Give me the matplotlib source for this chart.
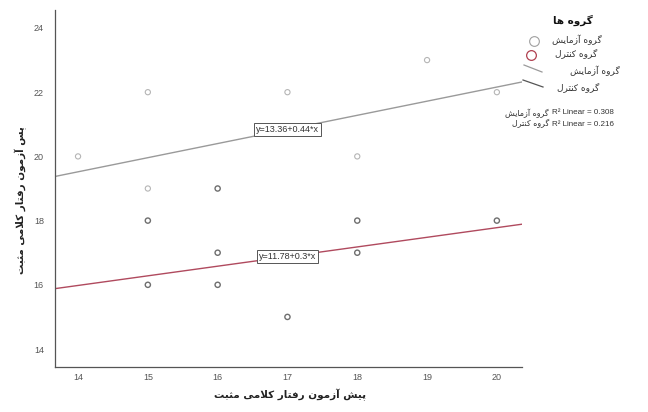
import matplotlib
matplotlib.use("Agg")
import matplotlib.pyplot as plt
from matplotlib.lines import Line2D
import numpy as np

# ---------------- data ----------------
exp_x = [14, 15, 15, 17, 18, 19, 20]
exp_y = [20, 22, 19, 22, 20, 23, 22]
ctl_x = [15, 15, 16, 16, 16, 17, 18, 18, 20]
ctl_y = [18, 16, 19, 17, 16, 15, 18, 17, 18]
fit_intercepts = [13.36, 11.78]
fit_slopes = [0.44, 0.3]
fit_labels = ["y=13.36+0.44*x", "y=11.78+0.3*x"]
r2_values = [0.308, 0.216]
x_ticks = [14, 15, 16, 17, 18, 19, 20]
y_ticks = [14, 16, 18, 20, 22, 24]

group_names = ["گروه آزمایش", "گروه کنترل"]
legend_title = "گروه ها"
x_label = "پیش آزمون رفتار کلامی مثبت"
y_label = "پس آزمون رفتار کلامی مثبت"

# ------------- minimal Arabic/Persian shaping -------------
FORMS = {
    'ا': ('\uFE8D', '\uFE8E', None, None),
    'آ': ('\uFE81', '\uFE82', None, None),
    'ب': ('\uFE8F', '\uFE90', '\uFE91', '\uFE92'),
    'پ': ('\uFB56', '\uFB57', '\uFB58', '\uFB59'),
    'ت': ('\uFE95', '\uFE96', '\uFE97', '\uFE98'),
    'ث': ('\uFE99', '\uFE9A', '\uFE9B', '\uFE9C'),
    'ر': ('\uFEAD', '\uFEAE', None, None),
    'ز': ('\uFEAF', '\uFEB0', None, None),
    'س': ('\uFEB1', '\uFEB2', '\uFEB3', '\uFEB4'),
    'ش': ('\uFEB5', '\uFEB6', '\uFEB7', '\uFEB8'),
    'ف': ('\uFED1', '\uFED2', '\uFED3', '\uFED4'),
    'ک': ('\uFB8E', '\uFB8F', '\uFB90', '\uFB91'),
    'گ': ('\uFB92', '\uFB93', '\uFB94', '\uFB95'),
    'ل': ('\uFEDD', '\uFEDE', '\uFEDF', '\uFEE0'),
    'م': ('\uFEE1', '\uFEE2', '\uFEE3', '\uFEE4'),
    'ن': ('\uFEE5', '\uFEE6', '\uFEE7', '\uFEE8'),
    'و': ('\uFEED', '\uFEEE', None, None),
    'ه': ('\uFEE9', '\uFEEA', '\uFEEB', '\uFEEC'),
    'ی': ('\uFBFC', '\uFBFD', '\uFBFE', '\uFBFF'),
}
LAM_ALEF = {'ا': ('\uFEFB', '\uFEFC'), 'آ': ('\uFEF5', '\uFEF6')}


def joins_left(ch):
    return ch in FORMS and FORMS[ch][2] is not None


def shape(text):
    chars = []
    i = 0
    while i < len(text):
        c = text[i]
        if c == 'ل' and i + 1 < len(text) and text[i + 1] in LAM_ALEF:
            chars.append(('LA', text[i + 1]))
            i += 2
        else:
            chars.append(('C', c))
            i += 1
    out = []
    for k, (kind, c) in enumerate(chars):
        prev = chars[k - 1] if k > 0 else None
        nxt = chars[k + 1] if k + 1 < len(chars) else None
        prev_joins = prev is not None and prev[0] == 'C' and joins_left(prev[1])
        if kind == 'LA':
            out.append(LAM_ALEF[c][1 if prev_joins else 0])
            continue
        if c not in FORMS:
            out.append(c)
            continue
        iso, fin, ini, med = FORMS[c]
        next_ok = nxt is not None and (nxt[0] == 'LA' or nxt[1] in FORMS)
        can_left = ini is not None and next_ok
        if prev_joins and can_left:
            out.append(med)
        elif prev_joins:
            out.append(fin)
        elif can_left:
            out.append(ini)
        else:
            out.append(iso)
    return ''.join(out)[::-1]


plt.rcParams['font.family'] = ['Liberation Sans', 'DejaVu Sans']
W, H = 648, 412
fig = plt.figure(figsize=(W / 100, H / 100), dpi=100)
ax = fig.add_axes([55 / W, 1 - 367 / H, (522 - 55) / W, (367 - 10) / H])

ax.set_xlim(13.67, 20.36)
ax.set_ylim(13.44, 24.56)
for s in ['top', 'right']:
    ax.spines[s].set_visible(False)
for s in ['left', 'bottom']:
    ax.spines[s].set_color('#555555')
    ax.spines[s].set_linewidth(0.9)

ax.set_xticks(x_ticks)
ax.set_yticks(y_ticks)
ax.set_xticklabels([str(v) for v in x_ticks])
ax.set_yticklabels([str(v) for v in y_ticks])
ax.tick_params(axis='both', length=0, labelsize=6.5, labelcolor='#555555')
ax.tick_params(axis='x', pad=4)
ax.tick_params(axis='y', pad=8)

# points
ax.scatter(exp_x, exp_y, s=14, facecolors='none', edgecolors='#b5b5b5', linewidths=0.8, zorder=3)
ax.scatter(ctl_x, ctl_y, s=14, facecolors='none', edgecolors='#6e6e6e', linewidths=1.0, zorder=3)

# fit lines
line_colors = ['#9a9a9a', '#b04a5e']
xs = np.array(ax.get_xlim())
for b0, b1, col, lab in zip(fit_intercepts, fit_slopes, line_colors, fit_labels):
    ax.plot(xs, b0 + b1 * xs, color=col, lw=1.0, zorder=2)
    ax.text(17.0, b0 + b1 * 17.0, lab, ha='center', va='center', fontsize=6.5,
            color='#333333', zorder=5,
            bbox=dict(boxstyle='square,pad=0.25', fc='white', ec='#555555', lw=0.7))

# axis labels
fig.text(290 / W, 1 - 395 / H, shape(x_label), ha='center', va='center', fontsize=7.5,
         family=['DejaVu Sans'], weight='bold', color='#222222')
fig.text(21 / W, 1 - 200 / H, shape(y_label), ha='center', va='center', fontsize=7.5,
         family=['DejaVu Sans'], weight='bold', color='#222222', rotation=90)

# legend (manual)
fig.text(573 / W, 1 - 20 / H, shape(legend_title), ha='center', va='center', fontsize=7.5,
         family=['DejaVu Sans'], weight='bold', color='#111111')
fig.add_artist(Line2D([534 / W], [1 - 41 / H], marker='o', ms=7, mfc='none', mec='#a0a0a0',
                      mew=0.8, transform=fig.transFigure))
fig.add_artist(Line2D([531 / W], [1 - 55 / H], marker='o', ms=7, mfc='none', mec='#b04050',
                      mew=0.9, transform=fig.transFigure))
fig.text(577 / W, 1 - 40 / H, shape(group_names[0]), ha='center', va='center', fontsize=6.5,
         family=['DejaVu Sans'], color='#333333')
fig.text(576 / W, 1 - 53 / H, shape(group_names[1]), ha='center', va='center', fontsize=6.5,
         family=['DejaVu Sans'], color='#333333')
fig.add_artist(Line2D([524 / W, 542 / W], [1 - 65 / H, 1 - 72 / H], color='#9a9a9a', lw=0.9,
                      transform=fig.transFigure))
fig.add_artist(Line2D([523 / W, 543 / W], [1 - 80 / H, 1 - 87 / H], color='#555555', lw=0.9,
                      transform=fig.transFigure))
fig.text(595 / W, 1 - 71 / H, shape(group_names[0]), ha='center', va='center', fontsize=6.5,
         family=['DejaVu Sans'], color='#333333')
fig.text(578 / W, 1 - 87 / H, shape(group_names[1]), ha='center', va='center', fontsize=6.5,
         family=['DejaVu Sans'], color='#333333')

for i, (g, r2) in enumerate(zip(group_names, r2_values)):
    y = 1 - (113 + 11 * i) / H
    fig.text(549 / W, y, shape(g), ha='right', va='center', fontsize=5.8,
             family=['DejaVu Sans'], color='#333333')
    fig.text(552 / W, y, "R\u00b2 Linear = %.3f" % r2, ha='left', va='center', fontsize=5.8,
             color='#333333')

fig.savefig('out.png', dpi=100)
